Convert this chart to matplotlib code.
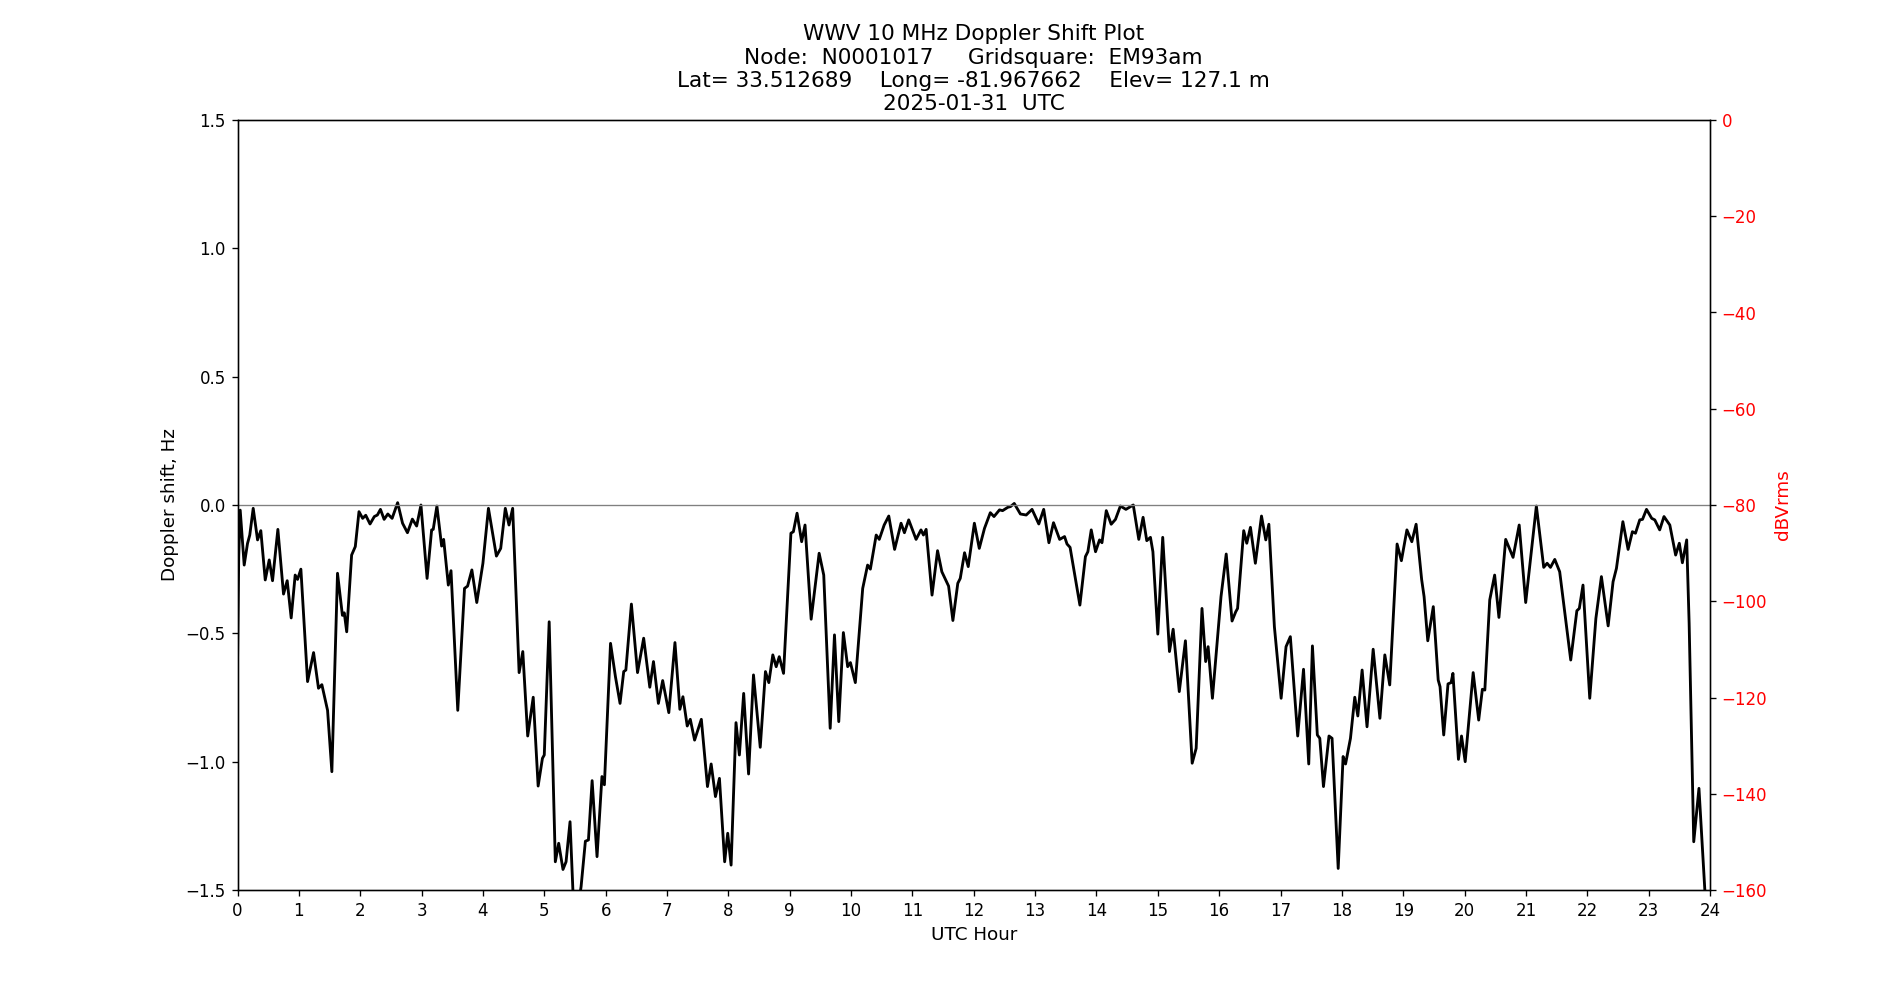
import matplotlib
matplotlib.use("Agg")
import matplotlib.pyplot as plt

hours = [
    0.0, 0.02, 0.044, 0.109, 0.163, 0.2, 0.256, 0.327, 0.38, 0.452, 0.517, 0.571, 0.658, 0.75, 0.81,
    0.875, 0.94, 0.979, 1.033, 1.142, 1.24, 1.32, 1.375, 1.468, 1.538, 1.63, 1.71, 1.74, 1.78, 1.86,
    1.92, 1.98, 2.04, 2.09, 2.16, 2.23, 2.28, 2.33, 2.39, 2.45, 2.52, 2.61, 2.69, 2.77, 2.85, 2.92, 2.99,
    3.09, 3.164, 3.19, 3.25, 3.327, 3.36, 3.436, 3.48, 3.59, 3.70, 3.75, 3.82, 3.90, 4.0, 4.09, 4.22,
    4.29, 4.365, 4.425, 4.485, 4.59, 4.65, 4.73, 4.82, 4.90, 4.97, 5.0, 5.08, 5.18, 5.235, 5.305, 5.355,
    5.42, 5.47, 5.52, 5.6, 5.67, 5.72, 5.78, 5.86, 5.94, 5.98,
    6.08, 6.16, 6.235, 6.295, 6.33, 6.42, 6.52, 6.62, 6.72, 6.78, 6.86, 6.93, 7.03, 7.13, 7.21, 7.26,
    7.33, 7.38, 7.45, 7.56, 7.66, 7.72, 7.79, 7.855, 7.94, 7.99, 8.045, 8.125, 8.18, 8.25, 8.33, 8.41,
    8.52, 8.605, 8.66, 8.725, 8.78, 8.83, 8.90,
    9.02, 9.06, 9.12, 9.195, 9.25, 9.35, 9.48, 9.555, 9.66, 9.73, 9.80, 9.875, 9.945, 9.99, 10.07, 10.19,
    10.27, 10.315, 10.41, 10.46, 10.54, 10.615, 10.71, 10.815, 10.87, 10.94, 11.06, 11.14, 11.18, 11.224,
    11.32, 11.41, 11.48, 11.59, 11.66, 11.74, 11.78, 11.85, 11.91,
    12.01, 12.09, 12.175, 12.27, 12.33, 12.42, 12.47, 12.555, 12.6, 12.66, 12.76, 12.855, 12.95, 13.06,
    13.14, 13.225, 13.3, 13.4, 13.48, 13.52, 13.57, 13.73, 13.82, 13.86, 13.915, 13.985, 14.05, 14.09,
    14.16, 14.24, 14.31, 14.39, 14.48, 14.6, 14.69, 14.76, 14.82,
    14.88, 14.92, 15.0, 15.08, 15.19, 15.25, 15.35, 15.45, 15.56, 15.625, 15.72, 15.78, 15.82, 15.89,
    16.03, 16.115, 16.21, 16.27, 16.3, 16.40, 16.45, 16.51, 16.59, 16.69, 16.76, 16.81, 16.90, 17.01,
    17.09, 17.16, 17.28, 17.375, 17.46, 17.52, 17.6, 17.64, 17.70, 17.79,
    17.84, 17.94, 18.02, 18.06, 18.14, 18.21, 18.26, 18.33, 18.41, 18.51, 18.62, 18.70, 18.78, 18.90,
    18.97, 19.06, 19.14, 19.21, 19.30, 19.34, 19.40, 19.49, 19.57, 19.60, 19.66, 19.73, 19.78, 19.81,
    19.90, 19.95, 20.01, 20.14, 20.23, 20.29, 20.33, 20.41,
    20.49, 20.56, 20.67, 20.79, 20.89, 20.996, 21.17, 21.29, 21.345, 21.40, 21.47, 21.55, 21.73, 21.83,
    21.87, 21.93, 22.04, 22.14, 22.23, 22.34, 22.42, 22.475, 22.58, 22.665, 22.735, 22.785, 22.855,
    22.90, 22.965, 23.05, 23.10, 23.18, 23.25, 23.345, 23.44, 23.50, 23.55, 23.62, 23.66, 23.735,
    23.82, 23.915, 23.94,
]

doppler_hz = [
    -0.62, -0.2, -0.02, -0.234, -0.15, -0.117, -0.013, -0.136, -0.1, -0.292, -0.214, -0.295, -0.095, -0.347, -0.295,
    -0.44, -0.273, -0.29, -0.25, -0.688, -0.575, -0.714, -0.70, -0.8, -1.039, -0.266, -0.43, -0.42, -0.494, -0.195,
    -0.162, -0.026, -0.052, -0.04, -0.074, -0.045, -0.039, -0.017, -0.056, -0.035, -0.052, 0.009, -0.071, -0.108, -0.055, -0.082, 0.0,
    -0.286, -0.097, -0.095, -0.004, -0.16, -0.134, -0.312, -0.256, -0.8, -0.325, -0.316, -0.253, -0.38, -0.227, -0.013, -0.199,
    -0.169, -0.013, -0.078, -0.013, -0.653, -0.571, -0.9, -0.749, -1.095, -0.987, -0.974, -0.455, -1.39, -1.318, -1.42, -1.39,
    -1.234, -1.52, -1.62, -1.487, -1.31, -1.305, -1.074, -1.37, -1.058, -1.09,
    -0.539, -0.669, -0.773, -0.649, -0.643, -0.386, -0.653, -0.519, -0.71, -0.61, -0.773, -0.684, -0.809, -0.536, -0.796, -0.747,
    -0.861, -0.835, -0.916, -0.835, -1.097, -1.009, -1.136, -1.065, -1.39, -1.279, -1.403, -0.848, -0.974, -0.734, -1.048, -0.662,
    -0.944, -0.649, -0.692, -0.584, -0.63, -0.591, -0.656,
    -0.11, -0.104, -0.032, -0.143, -0.078, -0.445, -0.188, -0.273, -0.87, -0.506, -0.844, -0.497, -0.63, -0.614, -0.692, -0.325,
    -0.234, -0.25, -0.117, -0.134, -0.078, -0.043, -0.173, -0.071, -0.108, -0.058, -0.134, -0.097, -0.117, -0.095,
    -0.351, -0.178, -0.26, -0.316, -0.45, -0.305, -0.286, -0.186, -0.24,
    -0.071, -0.169, -0.091, -0.03, -0.045, -0.019, -0.022, -0.009, -0.006, 0.006, -0.035, -0.039, -0.017, -0.074,
    -0.017, -0.147, -0.069, -0.134, -0.123, -0.152, -0.165, -0.39, -0.201, -0.182, -0.097, -0.182, -0.136, -0.147,
    -0.022, -0.075, -0.056, -0.004, -0.017, 0.0, -0.134, -0.048, -0.139,
    -0.126, -0.182, -0.503, -0.126, -0.571, -0.484, -0.727, -0.529, -1.006, -0.948, -0.403, -0.61, -0.552, -0.753,
    -0.357, -0.191, -0.452, -0.416, -0.403, -0.1, -0.149, -0.087, -0.227, -0.043, -0.136, -0.075, -0.474, -0.753,
    -0.552, -0.513, -0.9, -0.64, -1.009, -0.549, -0.896, -0.909, -1.097, -0.9,
    -0.909, -1.416, -0.98, -1.009, -0.909, -0.749, -0.822, -0.643, -0.864, -0.562, -0.831, -0.584, -0.701, -0.152,
    -0.217, -0.097, -0.143, -0.075, -0.29, -0.357, -0.529, -0.396, -0.682, -0.708, -0.896, -0.697, -0.692, -0.656,
    -0.991, -0.9, -1.0, -0.653, -0.838, -0.718, -0.721, -0.37,
    -0.273, -0.438, -0.134, -0.204, -0.078, -0.38, -0.004, -0.243, -0.227, -0.243, -0.212, -0.26, -0.604, -0.412,
    -0.403, -0.312, -0.753, -0.442, -0.279, -0.471, -0.299, -0.247, -0.065, -0.173, -0.104, -0.11, -0.058,
    -0.056, -0.017, -0.052, -0.058, -0.097, -0.045, -0.078, -0.195, -0.149, -0.225, -0.136, -0.461, -1.312,
    -1.104, -1.5, -1.6,
]

x_ticks = list(range(0, 25))
y_ticks = [-1.5, -1.0, -0.5, 0.0, 0.5, 1.0, 1.5]
db_ticks = [0, -20, -40, -60, -80, -100, -120, -140, -160]

title_text = ("WWV 10 MHz Doppler Shift Plot\n"
              "Node:  N0001017     Gridsquare:  EM93am\n"
              "Lat= 33.512689    Long= -81.967662    Elev= 127.1 m\n"
              "2025-01-31  UTC")

fig = plt.figure(figsize=(1900 / 120, 1000 / 120), dpi=120)
ax = fig.add_subplot(111)
fig.subplots_adjust(left=0.125, right=0.9, bottom=0.11, top=0.88)

ax.plot(hours, doppler_hz, color="black", linewidth=1.7)
ax.axhline(0.0, color="gray", linewidth=0.8)
ax.set_xlim(0, 24)
ax.set_ylim(-1.5, 1.5)
ax.set_xticks(x_ticks)
ax.set_yticks(y_ticks)
ax.set_xlabel("UTC Hour", fontsize=11)
ax.set_ylabel("Doppler shift, Hz", fontsize=11)
ax.set_title(title_text, fontsize=13)

ax2 = ax.twinx()
ax2.set_ylim(-160, 0)
ax2.set_yticks(db_ticks)
ax2.set_ylabel("dBVrms", color="red", fontsize=11)
ax2.tick_params(axis="y", labelcolor="red")

fig.savefig("out.png", dpi=120)
